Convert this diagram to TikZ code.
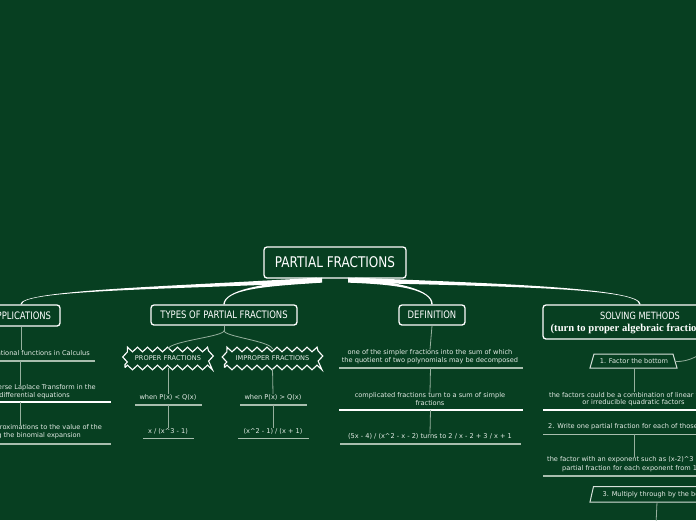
\documentclass[tikz,border=0pt]{standalone}
\usepackage{fontspec}
\newfontfamily\hdfont[FakeStretch=0.82]{DejaVu Sans}
\newfontfamily\smfont{DejaVu Sans}
\newfontfamily\srfont{Liberation Serif}
\usetikzlibrary{calc,decorations.pathmorphing}
\definecolor{bg}{RGB}{7,63,33}
\definecolor{lnc}{RGB}{150,176,158}
\definecolor{ulc}{RGB}{168,190,174}
\definecolor{txc}{RGB}{228,236,230}
\definecolor{shc}{RGB}{215,225,218}
\newcommand\mainconn[5]{%
  \fill[white] ($(#1)+(0,-2.5)$) .. controls ($#2+(0,-1.4)$) and ($#3+(#5,0)$) .. ($(#4)+(#5,0)$)
    -- ($(#4)-(#5,0)$) .. controls ($#3-(#5,0)$) and ($#2+(0,1.4)$) .. ($(#1)+(0,2.5)$) -- cycle;}
\begin{document}
\begin{tikzpicture}[x=1pt,y=-1pt,
  hbox/.style={draw=white, line width=1.3pt, rounded corners=3pt, fill=bg, text=white, inner sep=0pt},
  hd/.style={font=\hdfont\fontsize{10.3}{12}\selectfont},
  sm/.style={font=\smfont\fontsize{6.6}{8}\selectfont, text=txc, inner sep=0pt, align=center},
  sub/.style={draw=lnc, line width=0.8pt},
  ulthick/.style={draw=ulc, line width=2pt},
  ulwhite/.style={draw=white, line width=1.2pt},
  ulthin/.style={draw=ulc, line width=1pt},
  jag/.style={draw=white, line width=1.1pt, decorate, decoration={zigzag, segment length=10pt, amplitude=2.4pt},
    inner sep=0pt, text=txc, font=\smfont\fontsize{6.6}{8}\selectfont},
  shp/.style={draw=shc, line width=1pt}
]
\useasboundingbox (0,0) rectangle (696,520);
\clip (0,0) rectangle (696,520);
\fill[bg] (0,0) rectangle (696,520);

% heading nodes
\node[hbox, minimum width=142pt, minimum height=31pt, font=\hdfont\fontsize{14.7}{16}\selectfont] (root) at (335,262.5) {PARTIAL FRACTIONS};
\node[hbox, hd, minimum width=78pt, minimum height=21pt] (app) at (21,315.5) {APPLICATIONS};
\node[hbox, hd, minimum width=146pt, minimum height=20pt] (types) at (224,315) {TYPES OF PARTIAL FRACTIONS};
\node[hbox, hd, minimum width=66pt, minimum height=20pt] (def) at (432,315) {DEFINITION};
\node[hbox, minimum width=194pt, minimum height=34pt] (solv) at (640,322) {};
\node[text=white, inner sep=0pt, font=\hdfont\fontsize{10}{12}\selectfont] (solvA) at (640,315.5) {SOLVING METHODS};
\node[text=white, inner sep=0pt, anchor=west, font=\srfont\bfseries\fontsize{10.6}{12}\selectfont] (solvB) at (550.5,328.5) {(turn to proper algebraic fractions)};

% main connectors
\coordinate (rA) at ($(root.south)+(-18,1.5)$);
\coordinate (rT) at ($(root.south)+(-13,1.5)$);
\coordinate (rD) at ($(root.south)+(13,1.5)$);
\coordinate (rS) at ($(root.south)+(20,1.5)$);
\mainconn{rA}{(170,288)}{(21,290)}{app.north}{-0.7}
\mainconn{rT}{(260,285)}{(225,290)}{types.north}{-0.7}
\mainconn{rD}{(400,283)}{(432,290)}{def.north}{0.7}
\mainconn{rS}{(500,285)}{(640,288)}{solv.north}{0.7}

% APPLICATIONS column
\node[sm, anchor=east] (a1) at (90,353) {rational functions in Calculus};
\node[sm, anchor=east] (a2a) at (96,388) {inverse Laplace Transform in the};
\node[sm, anchor=east] (a2b) at (70,396) {differential equations};
\node[sm, anchor=east] (a3a) at (102,428) {approximations to the value of the};
\node[sm, anchor=east] (a3b) at (81,436) {using the binomial expansion};
\draw[ulthick] (-5,361) -- (95,361);
\draw[ulwhite] (-5,402) -- (111,402);
\draw[ulthick] (-5,444) -- (111,444);
\coordinate (ua1) at (20.5,361);
\coordinate (ua2) at (20.5,402);
\draw[sub] (app.south) -- (app.south |- a1.north);
\draw[sub] (ua1) -- (ua1 |- a2a.north);
\draw[sub] (ua2) -- (ua2 |- a3a.north);

% TYPES column
\node[jag, minimum width=86pt, minimum height=18pt] (prop) at (168,358.5) {PROPER FRACTIONS};
\node[jag, minimum width=96pt, minimum height=18pt] (improp) at (272.5,358.5) {IMPROPER FRACTIONS};
\coordinate (tfork) at ($(types.south)+(0,5)$);
\draw[sub] (types.south) -- (tfork);
\draw[sub] (tfork) .. controls ($(tfork)+(0,6)$) and ($(prop.north)+(2,-8)$) .. (prop.north);
\draw[sub] (tfork) .. controls ($(tfork)+(0,6)$) and ($(improp.north)+(-2,-8)$) .. (improp.north);
\node[sm] (t1) at (168,397) {when P(x) < Q(x)};
\node[sm] (t2) at (168,431.5) {x / (x\textasciicircum 3 - 1)};
\node[sm] (t3) at (273,397) {when P(x) > Q(x)};
\node[sm] (t4) at (273,431.5) {(x\textasciicircum 2 - 1) / (x + 1)};
\draw[ulthick] (135,404.5) -- (202,404.5);
\draw[ulthin] (143,438) -- (194,438);
\draw[ulthick] (240,404.5) -- (307,404.5);
\draw[ulthin] (238,438) -- (309,438);
\coordinate (ut1) at (168,404.5);
\coordinate (ut3) at (273,404.5);
\draw[sub] (prop.south) -- (t1.north);
\draw[sub] (improp.south) -- (t3.north);
\draw[sub] (ut1) -- (t2.north);
\draw[sub] (ut3) -- (t4.north);

% DEFINITION column
\node[sm] (d1) at (430,357) {one of the simpler fractions into the sum of which\\the quotient of two polynomials may be decomposed};
\node[sm] (d2) at (430,399) {complicated fractions turn to a sum of simple\\fractions};
\node[sm] (d3) at (430,436.5) {(5x - 4) / (x\textasciicircum 2 - x - 2) turns to 2 / x - 2 + 3 / x + 1};
\draw[ulthick] (339,368) -- (523,368);
\draw[ulwhite] (339,410) -- (523,410);
\draw[ulthick] (340,443.5) -- (521,443.5);
\coordinate (ud1) at (430.5,368);
\coordinate (ud2) at (430.5,410);
\draw[sub] (def.south) -- (d1.north);
\draw[sub] (ud1) -- (d2.north);
\draw[sub] (ud2) -- (d3.north);

% SOLVING column
\node[sm] (s1) at (634,361) {1. Factor the bottom};
\draw[shp] ($(s1)+(-40,-7)$) -- ($(s1)+(39,-7)$) -- ($(s1)+(43,7)$) -- ($(s1)+(-44,7)$) -- cycle;
\coordinate (s1e) at ($(s1)+(41,0.5)$);
\coordinate (s1s) at ($(s1)+(0,7)$);
\coordinate (solvR) at (712,346);
\draw[sub] (s1e) .. controls (690,362) and (700,355) .. (solvR);
\node[sm, anchor=west] (s2a) at (549,395) {the factors could be a combination of linear factors};
\node[sm] (s2b) at (633.5,403) {or irreducible quadratic factors};
\draw[ulwhite] (543,410) -- (700,410);
\node[sm, anchor=west] (s3) at (548,427) {2. Write one partial fraction for each of those};
\draw[ulthin] (543,434) -- (700,434);
\node[sm, anchor=west] (s4a) at (547,460) {the factor with an exponent such as (x-2)\textasciicircum 3};
\node[sm, anchor=west] (s4b) at (562,468.5) {partial fraction for each exponent from 1};
\draw[ulthick] (543,476) -- (700,476);
\coordinate (us3) at (634,434);
\draw[sub] (s1s) -- (s1s |- s2a.north);
\draw[sub] (us3) -- (us3 |- s4a.north);
\node[sm, anchor=west] (s5) at (602.5,494.3) {3. Multiply through by the bottom};
\draw[shp] (593.5,486.5) -- (720,486.5) -- (720,502) -- (590,502) -- cycle;
\coordinate (s5b) at (657,502);
\coordinate (s5out) at (656,525);
\draw[sub] (s5b) -- (s5out);
\end{tikzpicture}
\end{document}
